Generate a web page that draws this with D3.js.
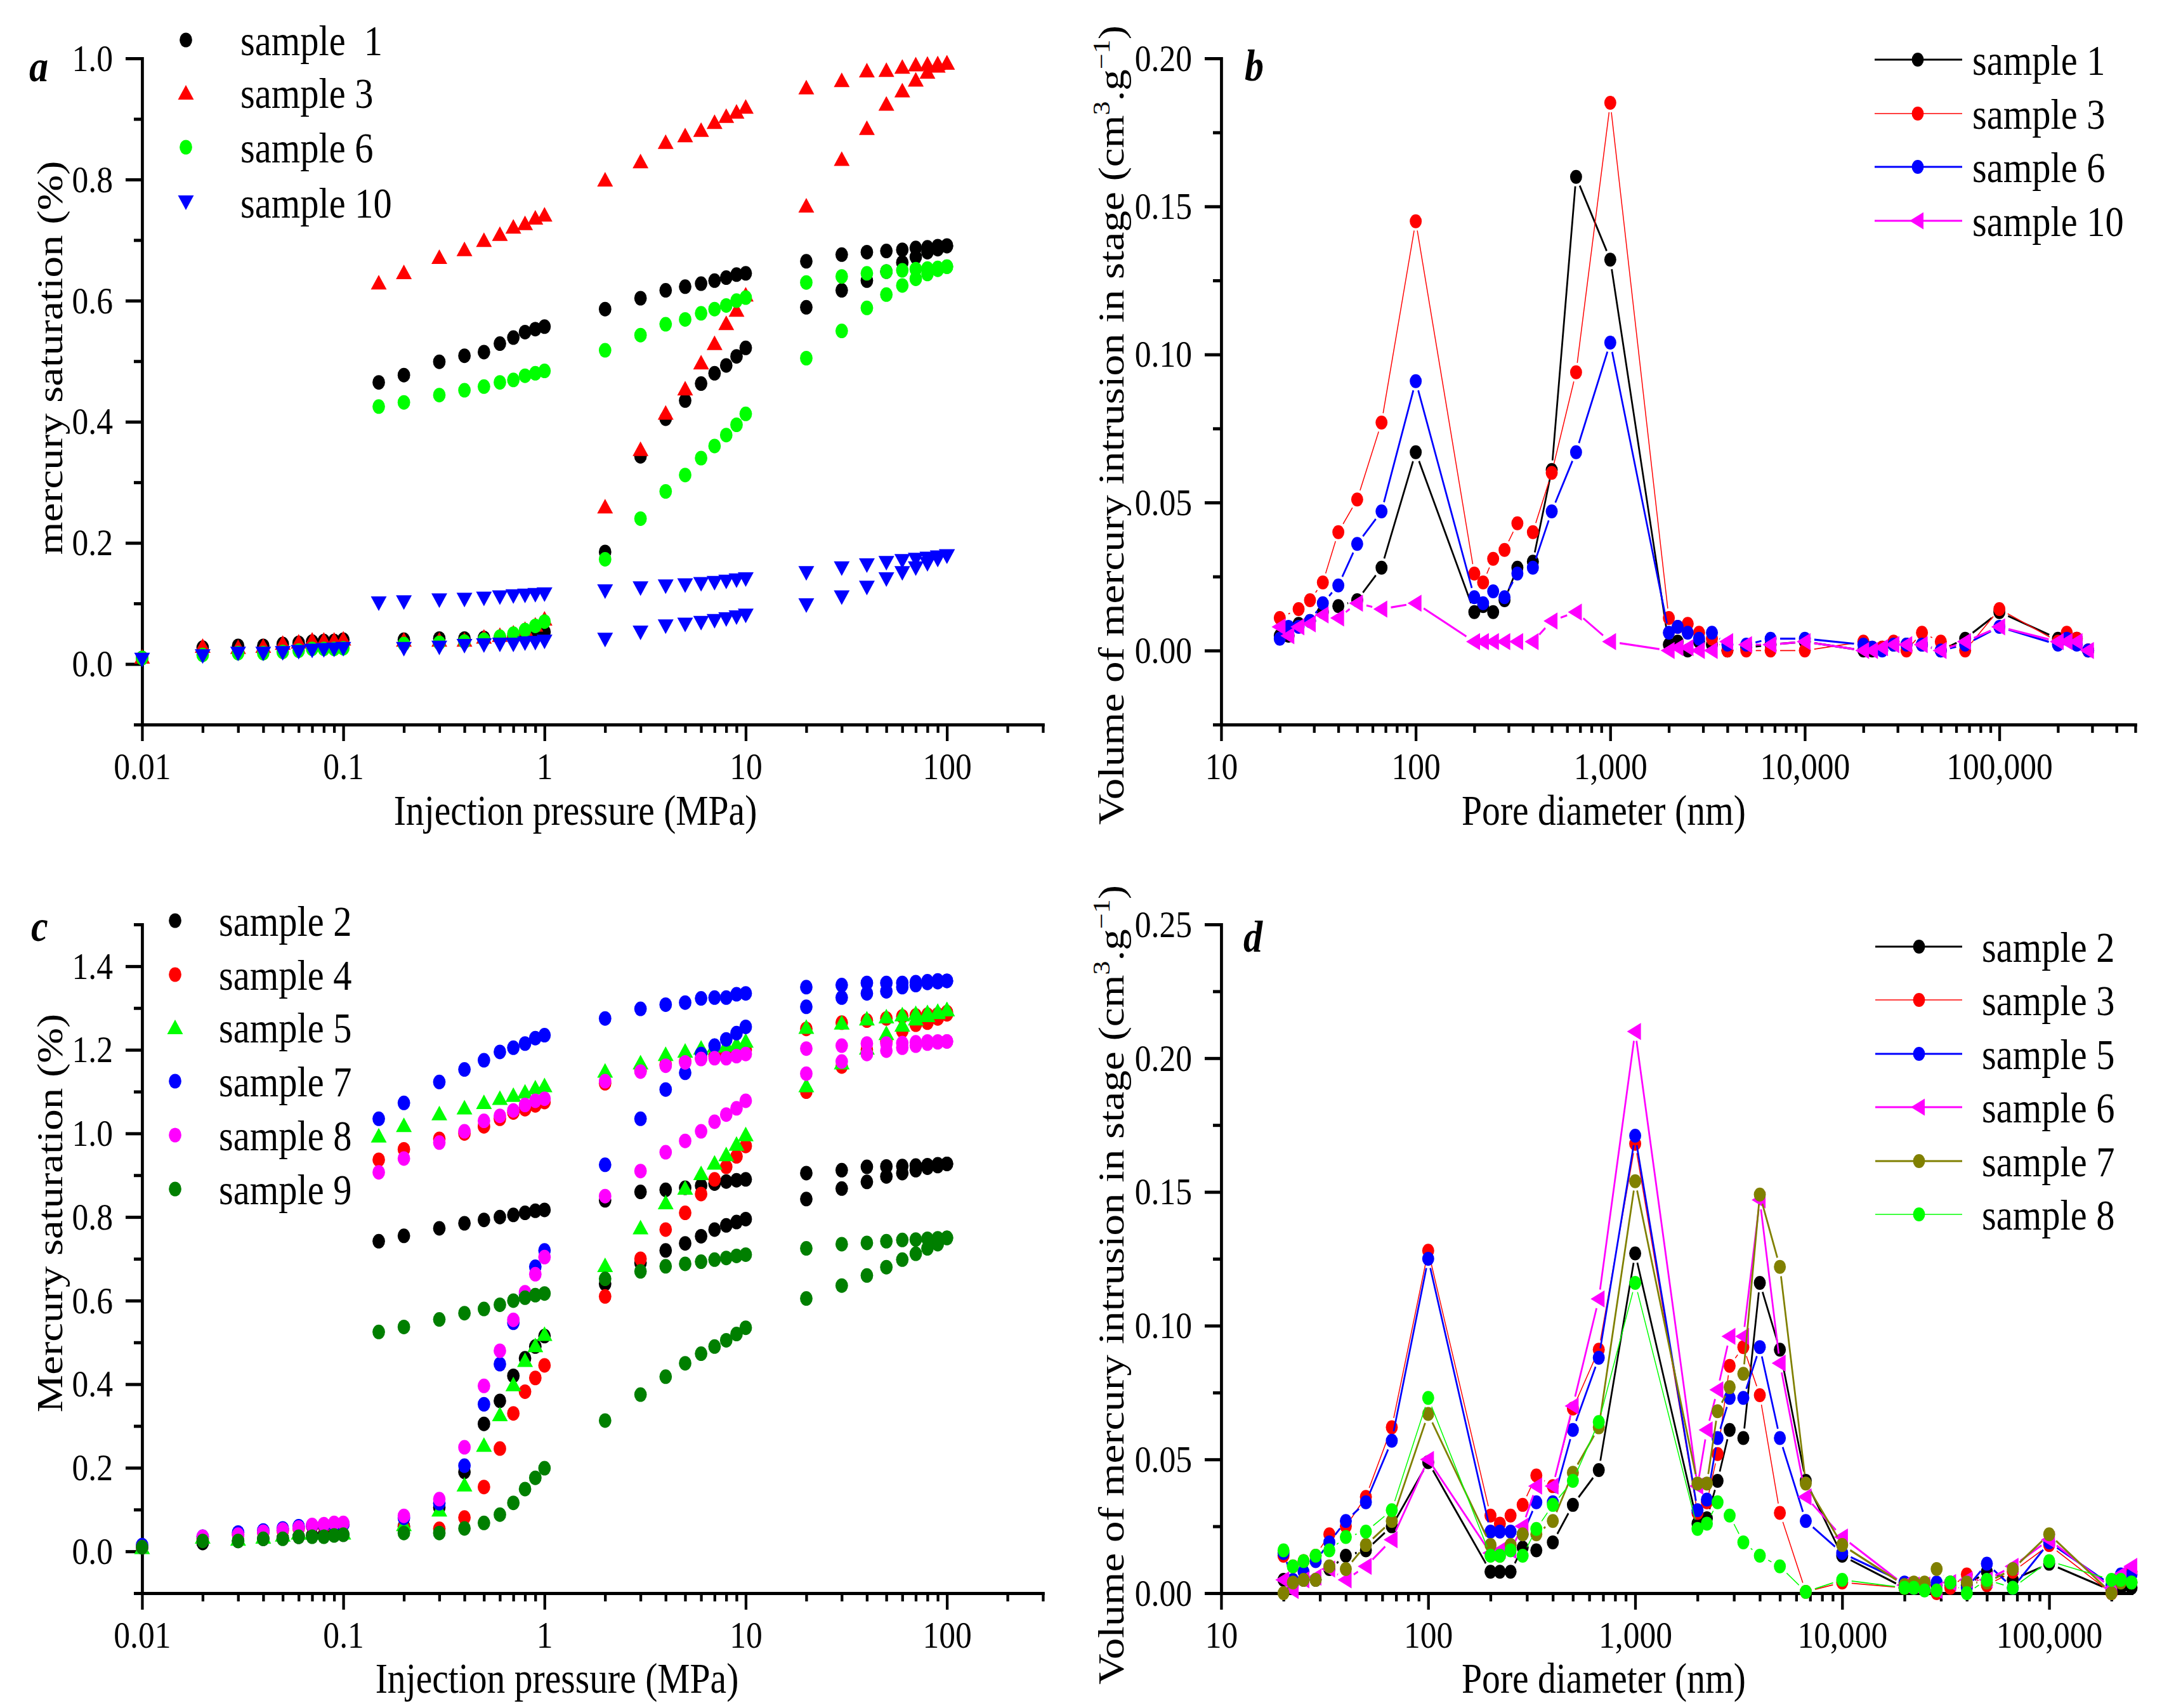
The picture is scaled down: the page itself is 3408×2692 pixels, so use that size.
<!DOCTYPE html>
<html>
<head>
<meta charset="utf-8">
<script src="https://cdn.jsdelivr.net/npm/d3@7"></script>
<style>
body { margin: 0; background: #fff; }
svg { display: block; }
</style>
</head>
<body>
<script>
// ---- panels a & c: injection pressure (MPa) grid, two branches per sample ----
const pressure = [0.01,0.02,0.03,0.04,0.05,0.06,0.07,0.08,0.09,0.1,
  0.15,0.2,0.3,0.4,0.5,0.6,0.7,0.8,0.9,1,
  2,3,4,5,6,7,8,9,10,
  20,30,40,50,60,70,80,90,100];
const N10 = [null,null,null,null,null,null,null,null,null,null];

// panel a
const aS1Lo = [0.01,0.027,0.03,0.03,0.033,0.035,0.037,0.038,0.038,0.04, null,
  0.04,0.042,0.042,0.043,0.044,0.046,0.048,0.05,0.053,
  0.185,0.343,0.405,0.435,0.463,0.48,0.493,0.508,0.522,
  0.589,0.617,0.633,0.648,0.663,0.672,0.68,0.685,0.69];
const aS1Hi = N10.concat([0.465,0.477,0.499,0.509,0.515,0.529,0.539,0.548,0.553,0.557,
  0.586,0.604,0.617,0.623,0.628,0.633,0.638,0.643,0.645,
  0.665,0.676,0.68,0.682,0.684,0.687,0.688,0.69,0.691]);
const aS3Lo = [0.012,0.03,0.028,0.03,0.035,0.037,0.04,0.04,0.04,0.042, null,
  0.04,0.04,0.04,0.045,0.048,0.052,0.058,0.065,0.075,
  0.26,0.355,0.415,0.455,0.498,0.53,0.563,0.585,0.61,
  0.757,0.834,0.885,0.925,0.947,0.965,0.978,0.988,0.993];
const aS3Hi = N10.concat([0.63,0.647,0.672,0.685,0.7,0.71,0.722,0.728,0.737,0.742,
  0.80,0.83,0.862,0.873,0.882,0.895,0.905,0.912,0.92,
  0.952,0.964,0.98,0.981,0.986,0.99,0.991,0.992,0.993]);
const aS6Lo = [0.01,0.015,0.018,0.018,0.02,0.022,0.025,0.025,0.025,0.026, null,
  0.033,0.035,0.037,0.04,0.045,0.05,0.056,0.063,0.07,
  0.173,0.24,0.285,0.312,0.34,0.36,0.378,0.395,0.413,
  0.505,0.55,0.588,0.61,0.625,0.636,0.644,0.651,0.656];
const aS6Hi = N10.concat([0.425,0.432,0.444,0.452,0.458,0.465,0.469,0.476,0.48,0.484,
  0.518,0.543,0.561,0.569,0.579,0.586,0.592,0.6,0.605,
  0.63,0.64,0.645,0.648,0.65,0.652,0.653,0.654,0.656]);
const aS10Lo = [0.007,0.013,0.017,0.017,0.018,0.02,0.022,0.023,0.024,0.025, null,
  0.025,0.027,0.03,0.031,0.032,0.032,0.034,0.035,0.037,
  0.04,0.052,0.062,0.065,0.068,0.071,0.074,0.077,0.08,
  0.097,0.11,0.126,0.14,0.15,0.158,0.165,0.172,0.178];
const aS10Hi = N10.concat([0.1,0.102,0.105,0.106,0.108,0.11,0.112,0.113,0.114,0.115,
  0.12,0.125,0.128,0.13,0.132,0.134,0.136,0.138,0.14,
  0.15,0.158,0.163,0.167,0.17,0.172,0.174,0.176,0.178]);

// panel c
const cS2Lo = [0.01,0.02,0.025,0.03,0.032,0.035,0.038,0.04,0.04,0.04, null,
  0.06,0.105,0.19,0.305,0.36,0.42,0.462,0.49,0.515,
  0.64,0.69,0.72,0.737,0.754,0.77,0.78,0.788,0.795,
  0.843,0.868,0.884,0.897,0.905,0.912,0.918,0.922,0.927];
const cS2Hi = N10.concat([0.742,0.755,0.773,0.785,0.793,0.80,0.805,0.81,0.815,0.817,
  0.84,0.86,0.865,0.87,0.875,0.88,0.885,0.888,0.89,
  0.905,0.912,0.92,0.921,0.922,0.923,0.924,0.926,0.927]);
const cS4Lo = [0.01,0.03,0.04,0.045,0.05,0.055,0.06,0.06,0.065,0.065, null,
  0.058,0.054,0.081,0.154,0.246,0.33,0.382,0.415,0.445,
  0.61,0.70,0.77,0.81,0.855,0.89,0.92,0.945,0.97,
  1.10,1.16,1.20,1.22,1.245,1.26,1.265,1.275,1.285];
const cS4Hi = N10.concat([0.937,0.962,0.987,1.0,1.017,1.035,1.05,1.058,1.067,1.075,
  1.12,1.15,1.165,1.172,1.18,1.185,1.19,1.195,1.2,
  1.25,1.265,1.27,1.275,1.28,1.282,1.284,1.285,1.29]);
const cS5Lo = [0.01,0.035,0.03,0.035,0.04,0.045,0.045,0.045,0.045,0.045, null,
  0.065,0.10,0.16,0.255,0.328,0.40,0.458,0.493,0.52,
  0.685,0.775,0.835,0.87,0.905,0.93,0.95,0.975,0.998,
  1.115,1.17,1.205,1.24,1.26,1.275,1.283,1.29,1.297];
const cS5Hi = N10.concat([0.995,1.02,1.048,1.062,1.075,1.085,1.092,1.10,1.11,1.115,
  1.15,1.17,1.19,1.198,1.205,1.21,1.212,1.215,1.222,
  1.255,1.265,1.275,1.28,1.285,1.288,1.29,1.293,1.297]);
const cS7Lo = [0.015,0.035,0.045,0.05,0.055,0.06,0.062,0.063,0.064,0.065, null,
  0.08,0.115,0.205,0.352,0.448,0.547,0.615,0.681,0.72,
  0.925,1.035,1.105,1.145,1.19,1.21,1.225,1.24,1.255,
  1.303,1.325,1.335,1.34,1.35,1.355,1.36,1.362,1.365];
const cS7Hi = N10.concat([1.035,1.073,1.123,1.153,1.175,1.195,1.205,1.215,1.228,1.235,
  1.275,1.298,1.308,1.313,1.323,1.325,1.325,1.333,1.335,
  1.35,1.355,1.36,1.36,1.36,1.362,1.364,1.366,1.365]);
const cS8Lo = [0.01,0.035,0.04,0.047,0.052,0.057,0.063,0.065,0.068,0.068, null,
  0.085,0.125,0.249,0.396,0.48,0.554,0.62,0.663,0.704,
  0.85,0.91,0.955,0.982,1.005,1.028,1.045,1.06,1.078,
  1.143,1.172,1.19,1.198,1.205,1.21,1.215,1.218,1.22];
const cS8Hi = N10.concat([0.907,0.94,0.978,1.005,1.03,1.042,1.055,1.068,1.078,1.083,
  1.125,1.148,1.162,1.17,1.178,1.18,1.18,1.185,1.19,
  1.203,1.21,1.215,1.215,1.216,1.218,1.22,1.22,1.22]);
const cS9Lo = [0.01,0.025,0.025,0.03,0.03,0.035,0.035,0.035,0.038,0.04, null,
  0.044,0.044,0.055,0.068,0.088,0.116,0.149,0.176,0.199,
  0.313,0.375,0.418,0.45,0.473,0.49,0.505,0.52,0.535,
  0.605,0.636,0.66,0.68,0.698,0.712,0.725,0.735,0.75];
const cS9Hi = N10.concat([0.525,0.537,0.555,0.57,0.58,0.59,0.6,0.607,0.613,0.617,
  0.652,0.67,0.682,0.688,0.693,0.698,0.702,0.707,0.71,
  0.725,0.735,0.738,0.742,0.745,0.746,0.748,0.749,0.75]);

// ---- panels b & d: pore diameter (nm) ----
const poreB = [20,22.2,25,28.6,33.3,40,50,66.7,100,
  200,222,250,286,333,400,500,667,1000,
  2000,2220,2500,2860,3330,4000,5000,6670,10000,
  20000,22200,25000,28600,33300,40000,50000,66700,100000,
  200000,222000,250000,286000];
const poreD = [20,22.2,25,28.6,33.3,40,50,66.7,100,
  200,222,250,286,333,400,500,667,1000,
  2000,2220,2500,2860,3330,4000,5000,6670,10000,
  20000,22200,25000,28600,33300,40000,50000,66700,100000,
  200000,222000,250000];

const bS1 = [0.005,0.005,0.009,0.01,0.013,0.015,0.017,0.028,0.067,
  0.013,0.015,0.013,0.017,0.028,0.030,0.061,0.160,0.132,
  0.002,0.003,0.0,0.003,0.002,0.0,0.001,0.002,0.003,
  0.0,0.0,0.001,0.002,0.002,0.002,0.0,0.004,0.013,
  0.004,0.004,0.004,0.0];
const bS3 = [0.011,null,0.014,0.017,0.023,0.040,0.051,0.077,0.145,
  0.026,0.023,0.031,0.034,0.043,0.040,0.060,0.094,0.185,
  0.011,0.008,0.009,0.006,0.004,0.0,0.0,0.0,0.0,
  0.003,0.001,0.001,0.003,0.0,0.006,0.003,0.0,0.014,
  0.003,0.006,0.004,0.0];
const bS6 = [0.004,0.008,0.008,0.010,0.016,0.022,0.036,0.047,0.091,
  0.018,0.016,0.020,0.018,0.026,0.028,0.047,0.067,0.104,
  0.006,0.008,0.006,0.004,0.006,0.002,0.002,0.004,0.004,
  0.002,0.001,0.0,0.002,0.002,0.002,0.0,0.002,0.008,
  0.002,0.004,0.002,0.0];
const bS10 = [0.008,0.005,0.008,0.009,0.012,0.011,0.016,0.014,0.016,
  0.003,0.003,0.003,0.003,0.003,0.003,0.010,0.013,0.003,
  0.0,0.001,0.001,0.0,0.0,0.003,0.002,0.002,0.003,
  0.0,0.0,0.001,0.002,0.002,0.002,0.0,0.003,0.008,
  0.003,0.003,0.003,0.0];

const dS2 = [0.005,0.003,0.005,0.005,0.009,0.014,0.016,0.025,0.049,
  0.008,0.008,0.008,0.017,0.016,0.019,0.033,0.046,0.127,
  0.026,0.028,0.042,0.061,0.058,0.116,0.091,0.042,0.014,
  0.002,0.003,0.003,0.003,0.003,0.003,0.008,0.005,0.011,
  0.001,0.002,0.002];
const dS3 = [0.014,0.010,0.012,0.014,0.022,0.025,0.036,0.062,0.128,
  0.029,0.026,0.029,0.033,0.044,0.040,0.069,0.091,0.168,
  0.030,0.034,0.052,0.085,0.092,0.074,0.030,0.0005,0.004,
  0.002,0.002,0.003,0.0,0.002,0.007,0.003,0.008,0.018,
  0.0,0.006,0.008];
const dS5 = [0.015,0.005,0.008,0.012,0.019,0.027,0.034,0.057,0.125,
  0.023,0.023,0.023,0.022,0.034,0.034,0.061,0.088,0.171,
  0.031,0.035,0.058,0.073,0.073,0.092,0.058,0.027,0.015,
  0.004,0.002,0.002,0.004,0.004,0.002,0.011,0.002,0.019,
  0.003,0.007,0.007];
const dS6 = [0.005,0.001,0.005,0.006,0.009,0.005,0.010,0.020,0.050,
  0.015,0.016,0.016,0.025,0.040,0.040,0.070,0.110,0.210,
  0.040,0.061,0.076,0.096,0.096,0.147,0.086,0.036,0.021,
  0.003,0.003,0.003,0.001,0.004,0.005,0.005,0.010,0.020,
  0.002,0.007,0.010];
const dS7 = [0.0,0.004,0.005,0.005,0.010,0.009,0.018,0.027,0.067,
  0.018,0.014,0.018,0.022,0.022,0.027,0.045,0.062,0.154,
  0.041,0.041,0.068,0.077,0.082,0.149,0.122,0.041,0.018,
  0.003,0.004,0.004,0.009,0.004,0.004,0.004,0.009,0.022,
  0.0,0.004,0.004];
const dS8 = [0.016,0.010,0.012,0.014,0.016,0.021,0.023,0.031,0.073,
  0.014,0.014,0.016,0.014,0.024,0.033,0.042,0.064,0.116,
  0.024,0.026,0.034,0.029,0.019,0.014,0.010,0.0005,0.005,
  0.002,0.002,0.001,0.001,0.004,0.0,0.005,0.002,0.012,
  0.005,0.005,0.004];

const yMajorA = [0,0.2,0.4,0.6,0.8,1.0], yMinorA = [-0.1,0.1,0.3,0.5,0.7,0.9];
const yMajorB = [0,0.05,0.10,0.15,0.20], yMinorB = [-0.025,0.025,0.075,0.125,0.175];
const yMajorC = [0,0.2,0.4,0.6,0.8,1.0,1.2,1.4], yMinorC = [-0.1,0.1,0.3,0.5,0.7,0.9,1.1,1.3,1.5];
const yMajorD = [0,0.05,0.10,0.15,0.20,0.25], yMinorD = [0.025,0.075,0.125,0.175,0.225];

// ---- drawing ----
const FONT = '"Times New Roman","Liberation Serif",serif';
const K = 0.86;               // the whole figure is squeezed horizontally
const lx = v => v / K;
const W = 3408, H = 2692;

const svg = d3.select("body").append("svg").attr("width", W).attr("height", H);
svg.append("rect").attr("width", W).attr("height", H).attr("fill", "#fff");
const root = svg.append("g").attr("transform", `scale(${K},1)`);

const circ = r => `M${r},0A${r},${r} 0 1,1 ${-r},0A${r},${r} 0 1,1 ${r},0Z`;
const SHAPES = {
  circle: circ(11.5),
  dot: circ(11),
  up: "M0,-12L14.5,11L-14.5,11Z",
  down: "M0,12L14.5,-11L-14.5,-11Z",
  left: "M-15,0L10.5,-13.5L10.5,13.5Z"
};

function logTicks(lo, hi) {
  const major = [], minor = [];
  for (let e = Math.floor(Math.log10(lo)); e <= Math.ceil(Math.log10(hi)); e++) {
    for (let m = 1; m <= 9; m++) {
      const v = +(m * Math.pow(10, e)).toPrecision(6);
      if (v < lo * 0.9999 || v > hi * 1.0001) continue;
      (m === 1 ? major : minor).push(v);
    }
  }
  return {major, minor};
}

function drawAxes(g, x, y, o) {
  const xt = logTicks(x.domain()[0], x.domain()[1]);
  const gx = g.append("g").attr("transform", `translate(0,${y.range()[0]})`);
  gx.append("g").call(d3.axisBottom(x).tickValues(xt.minor).tickSize(13).tickSizeOuter(0).tickFormat(""));
  gx.append("g").call(d3.axisBottom(x).tickValues(xt.major).tickSize(26).tickSizeOuter(0)
    .tickPadding(17).tickFormat(o.xFmt));
  const gy = g.append("g").attr("transform", `translate(${x.range()[0]},0)`);
  gy.append("g").call(d3.axisLeft(y).tickValues(o.yMinor).tickSize(lx(13)).tickSizeOuter(0).tickFormat(""));
  gy.append("g").call(d3.axisLeft(y).tickValues(o.yMajor).tickSize(lx(26)).tickSizeOuter(0)
    .tickPadding(lx(20)).tickFormat(o.yFmt));
  g.selectAll(".domain").attr("stroke", "#000").attr("stroke-width", 5).attr("stroke-linecap", "square");
  g.selectAll(".tick line").attr("stroke", "#000").attr("stroke-width", 5);
  g.selectAll(".tick text").attr("fill", "#000").attr("font-size", 60).attr("font-family", FONT);
}

function scatter(g, x, y, xs, ys, shape, color) {
  const pts = xs.map((v, i) => [v, ys[i]]).filter(d => d[1] != null);
  g.append("g").selectAll("path").data(pts).join("path")
    .attr("transform", d => `translate(${x(d[0])},${y(d[1])})`)
    .attr("d", SHAPES[shape]).attr("fill", color);
}

// line with a small gap around every symbol, then the symbols
function lineSeries(g, x, y, xs, ys, shape, color, width) {
  const pts = xs.map((v, i) => [v, ys[i]]).filter(d => d[1] != null).map(d => [x(d[0]), y(d[1])]);
  const gap = 15;
  let path = "";
  for (let i = 1; i < pts.length; i++) {
    const [x0, y0] = pts[i - 1], [x1, y1] = pts[i];
    const len = Math.hypot((x1 - x0) * K, y1 - y0);
    if (len <= 2 * gap) continue;
    const t = gap / len;
    path += `M${x0 + (x1 - x0) * t},${y0 + (y1 - y0) * t}L${x1 - (x1 - x0) * t},${y1 - (y1 - y0) * t}`;
  }
  g.append("path").attr("d", path).attr("fill", "none").attr("stroke", color).attr("stroke-width", width);
  g.append("g").selectAll("path").data(pts).join("path")
    .attr("transform", d => `translate(${d[0]},${d[1]})`)
    .attr("d", SHAPES[shape]).attr("fill", color);
}

function text(g, x, y, s, size) {
  return g.append("text").attr("x", lx(x)).attr("y", y).attr("font-family", FONT)
    .attr("font-size", size).attr("fill", "#000").text(s);
}

function yTitle(g, x, y, s, size) {
  return g.append("text").attr("transform", `translate(${lx(x)},${y}) rotate(-90)`)
    .attr("text-anchor", "middle").attr("font-family", FONT).attr("font-size", size)
    .attr("fill", "#000").text(s);
}

function volTitle(g, x, y) {
  const t = g.append("text").attr("transform", `translate(${lx(x)},${y}) rotate(-90)`)
    .attr("text-anchor", "middle").attr("font-family", FONT).attr("font-size", 67).attr("fill", "#000");
  t.append("tspan").text("Volume of mercury intrusion in stage (cm");
  t.append("tspan").attr("font-size", 44).attr("dy", -26).text("3");
  t.append("tspan").attr("dy", 26).text(".g");
  t.append("tspan").attr("font-size", 44).attr("dy", -26).text("\u22121");
  t.append("tspan").attr("dy", 26).text(")");
}

const fmtP = d => d >= 1 ? d3.format(",")(d) : String(d);

// ---------- panel a ----------
{
  const g = root.append("g");
  const x = d3.scaleLog().domain([0.01, 300]).range([lx(224), lx(1644)]);
  const y = d3.scaleLinear().domain([-0.1, 1.0]).range([1142, 92]);
  drawAxes(g, x, y, {xFmt: fmtP, yFmt: d3.format(".1f"), yMajor: yMajorA, yMinor: yMinorA});
  const series = [
    {name: "sample  1", lo: aS1Lo, hi: aS1Hi, shape: "circle", color: "#000000"},
    {name: "sample 3", lo: aS3Lo, hi: aS3Hi, shape: "up", color: "#ff0000"},
    {name: "sample 6", lo: aS6Lo, hi: aS6Hi, shape: "circle", color: "#00ff00"},
    {name: "sample 10", lo: aS10Lo, hi: aS10Hi, shape: "down", color: "#0000ff"}
  ];
  series.forEach(s => {
    scatter(g, x, y, pressure, s.lo, s.shape, s.color);
    scatter(g, x, y, pressure, s.hi, s.shape, s.color);
  });
  const rows = [63, 146, 232, 319];
  series.forEach((s, i) => {
    g.append("path").attr("transform", `translate(${lx(293)},${rows[i]})`).attr("d", SHAPES[s.shape]).attr("fill", s.color);
    text(g, 379, rows[i] + 24, s.name, 68).style("white-space", "pre");
  });
  text(g, 907, 1300, "Injection pressure (MPa)", 67).attr("text-anchor", "middle");
  yTitle(g, 98, 564, "mercury saturation (%)", 67);
  text(g, 46, 128, "a", 70).attr("font-weight", "bold").attr("font-style", "italic");
}

// ---------- panel b ----------
{
  const g = root.append("g");
  const x = d3.scaleLog().domain([10, 500000]).range([lx(1925), lx(3366)]);
  const y = d3.scaleLinear().domain([-0.025, 0.2]).range([1142, 92]);
  drawAxes(g, x, y, {xFmt: d3.format(","), yFmt: d3.format(".2f"), yMajor: yMajorB, yMinor: yMinorB});
  const series = [
    {name: "sample 1", v: bS1, shape: "dot", color: "#000000", w: 3.2},
    {name: "sample 3", v: bS3, shape: "dot", color: "#ff0000", w: 1.7},
    {name: "sample 6", v: bS6, shape: "dot", color: "#0000ff", w: 3.2},
    {name: "sample 10", v: bS10, shape: "left", color: "#ff00ff", w: 3.2}
  ];
  series.forEach(s => lineSeries(g, x, y, poreB, s.v, s.shape, s.color, s.w));
  const rows = [94, 179, 263, 348];
  series.forEach((s, i) => {
    g.append("line").attr("x1", lx(2955)).attr("x2", lx(3093)).attr("y1", rows[i]).attr("y2", rows[i])
      .attr("stroke", s.color).attr("stroke-width", s.w);
    g.append("path").attr("transform", `translate(${lx(3023)},${rows[i]})`).attr("d", SHAPES[s.shape]).attr("fill", s.color);
    text(g, 3109, rows[i] + 24, s.name, 68);
  });
  text(g, 2528, 1300, "Pore diameter (nm)", 67).attr("text-anchor", "middle");
  volTitle(g, 1771, 670);
  text(g, 1962, 127, "b", 70).attr("font-weight", "bold").attr("font-style", "italic");
}

// ---------- panel c ----------
{
  const g = root.append("g");
  const x = d3.scaleLog().domain([0.01, 300]).range([lx(224), lx(1644)]);
  const y = d3.scaleLinear().domain([-0.1, 1.5]).range([2511, 1457]);
  drawAxes(g, x, y, {xFmt: fmtP, yFmt: d3.format(".1f"), yMajor: yMajorC, yMinor: yMinorC});
  const series = [
    {name: "sample 2", lo: cS2Lo, hi: cS2Hi, shape: "circle", color: "#000000"},
    {name: "sample 4", lo: cS4Lo, hi: cS4Hi, shape: "circle", color: "#ff0000"},
    {name: "sample 5", lo: cS5Lo, hi: cS5Hi, shape: "up", color: "#00ff00"},
    {name: "sample 7", lo: cS7Lo, hi: cS7Hi, shape: "circle", color: "#0000ff"},
    {name: "sample 8", lo: cS8Lo, hi: cS8Hi, shape: "circle", color: "#ff00ff"},
    {name: "sample 9", lo: cS9Lo, hi: cS9Hi, shape: "circle", color: "#007f00"}
  ];
  series.forEach(s => {
    scatter(g, x, y, pressure, s.lo, s.shape, s.color);
    scatter(g, x, y, pressure, s.hi, s.shape, s.color);
  });
  const rows = [1451, 1536, 1619, 1704, 1789, 1874];
  series.forEach((s, i) => {
    g.append("path").attr("transform", `translate(${lx(276)},${rows[i]})`).attr("d", SHAPES[s.shape]).attr("fill", s.color);
    text(g, 345, rows[i] + 24, s.name, 68);
  });
  text(g, 878, 2668, "Injection pressure (MPa)", 67).attr("text-anchor", "middle");
  yTitle(g, 98, 1912, "Mercury saturation (%)", 67);
  text(g, 49, 1483, "c", 70).attr("font-weight", "bold").attr("font-style", "italic");
}

// ---------- panel d ----------
{
  const g = root.append("g");
  const x = d3.scaleLog().domain([10, 250000]).range([lx(1925), lx(3360)]);
  const y = d3.scaleLinear().domain([0, 0.25]).range([2511, 1457]);
  drawAxes(g, x, y, {xFmt: d3.format(","), yFmt: d3.format(".2f"), yMajor: yMajorD, yMinor: yMinorD});
  const series = [
    {name: "sample 2", v: dS2, shape: "dot", color: "#000000", w: 3.2},
    {name: "sample 3", v: dS3, shape: "dot", color: "#ff0000", w: 1.7},
    {name: "sample 5", v: dS5, shape: "dot", color: "#0000ff", w: 3.2},
    {name: "sample 6", v: dS6, shape: "left", color: "#ff00ff", w: 3.2},
    {name: "sample 7", v: dS7, shape: "dot", color: "#808000", w: 3.2},
    {name: "sample 8", v: dS8, shape: "dot", color: "#00ff00", w: 1.7}
  ];
  series.forEach(s => lineSeries(g, x, y, poreD, s.v, s.shape, s.color, s.w));
  const rows = [1492, 1576, 1661, 1745, 1830, 1914];
  series.forEach((s, i) => {
    g.append("line").attr("x1", lx(2956)).attr("x2", lx(3093)).attr("y1", rows[i]).attr("y2", rows[i])
      .attr("stroke", s.color).attr("stroke-width", s.w);
    g.append("path").attr("transform", `translate(${lx(3025)},${rows[i]})`).attr("d", SHAPES[s.shape]).attr("fill", s.color);
    text(g, 3124, rows[i] + 24, s.name, 68);
  });
  text(g, 2528, 2668, "Pore diameter (nm)", 67).attr("text-anchor", "middle");
  volTitle(g, 1771, 2025);
  text(g, 1960, 1500, "d", 70).attr("font-weight", "bold").attr("font-style", "italic");
}
</script>
</body>
</html>
